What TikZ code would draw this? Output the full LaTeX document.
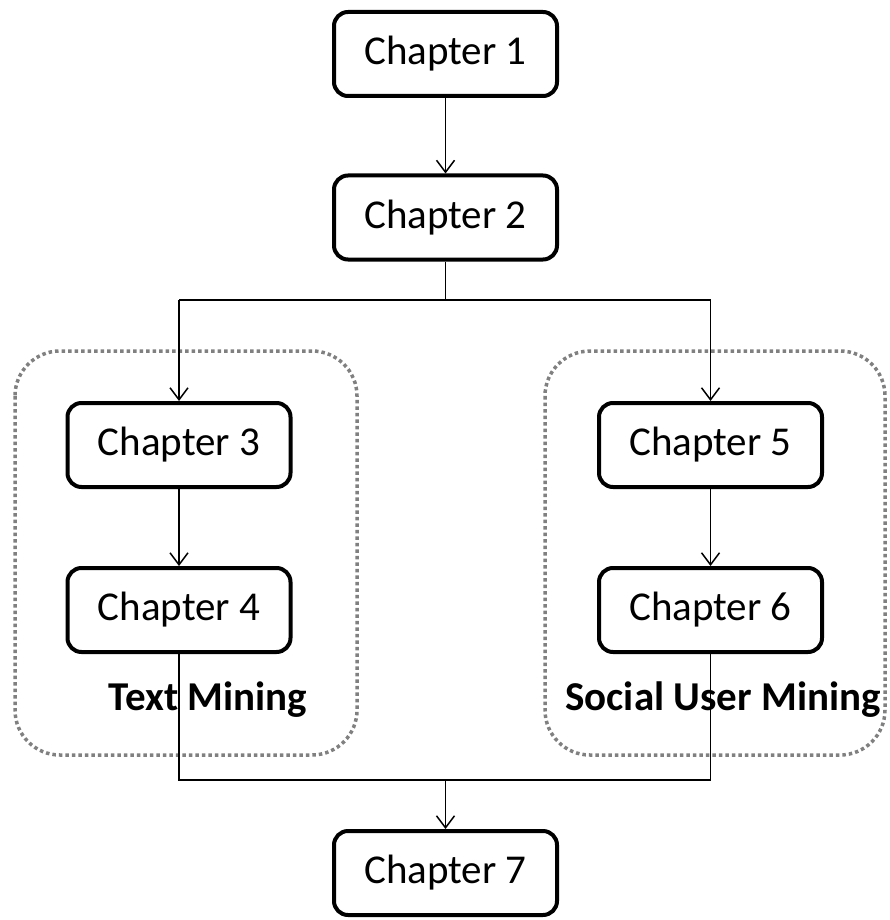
\documentclass[tikz,border=0pt]{standalone}
\usepackage{fontspec}
\setmainfont{Carlito}
\usetikzlibrary{arrows.meta}
\begin{document}
\begin{tikzpicture}[x=1pt,y=-1pt,
  chapbox/.style={draw=black, line width=4pt, rounded corners=14pt, fill=white,
    minimum width=223pt, minimum height=84pt, inner sep=0pt, font=\fontsize{41}{45}\selectfont},
  conn/.style={draw=black, line width=1.5pt},
  arr/.style={conn, -{Straight Barb[length=12pt,width=18pt,line width=1.5pt]}},
  groupbox/.style={draw={rgb,255:red,128;green,128;blue,128}, line width=3.5pt,
    dash pattern=on 3.5pt off 3pt, rounded corners=45pt},
  grouplabel/.style={font=\bfseries\fontsize{41}{45}\selectfont, inner sep=0pt}]
\useasboundingbox (0,0) rectangle (890,920);
% group frames
\draw[groupbox] (15,351) rectangle (357,755);
\draw[groupbox] (545,351) rectangle (885,755);
% nodes
\node[chapbox] (c1) at (445.5,54) {Chapter 1};
\node[chapbox] (c2) at (445.5,217.5) {Chapter 2};
\node[chapbox] (c3) at (179,445) {Chapter 3};
\node[chapbox] (c4) at (179,610) {Chapter 4};
\node[chapbox] (c5) at (710.5,445) {Chapter 5};
\node[chapbox] (c6) at (710.5,610) {Chapter 6};
\node[chapbox] (c7) at (445.5,873) {Chapter 7};
% junctions
\coordinate (split) at (445.5,300);
\coordinate (splitL) at (179,300);
\coordinate (splitR) at (710.5,300);
\coordinate (mergeL) at (179,780);
\coordinate (mergeR) at (710.5,780);
\coordinate (merge) at (445.5,780);
% connectors
\draw[arr] (c1) -- (c2);
\draw[conn] (c2.south) -- (split);
\draw[conn] (splitL) -- (splitR);
\draw[arr] (splitL) -- (c3.north);
\draw[arr] (splitR) -- (c5.north);
\draw[arr] (c3) -- (c4);
\draw[arr] (c5) -- (c6);
\draw[conn] (c4.south) -- (mergeL) -- (mergeR) -- (c6.south);
\draw[arr] (merge) -- (c7.north);
% labels
\node[grouplabel] (tm) at (208,700) {Text Mining};
\node[grouplabel] (sum) at (723,700) {Social User Mining};
\end{tikzpicture}
\end{document}
